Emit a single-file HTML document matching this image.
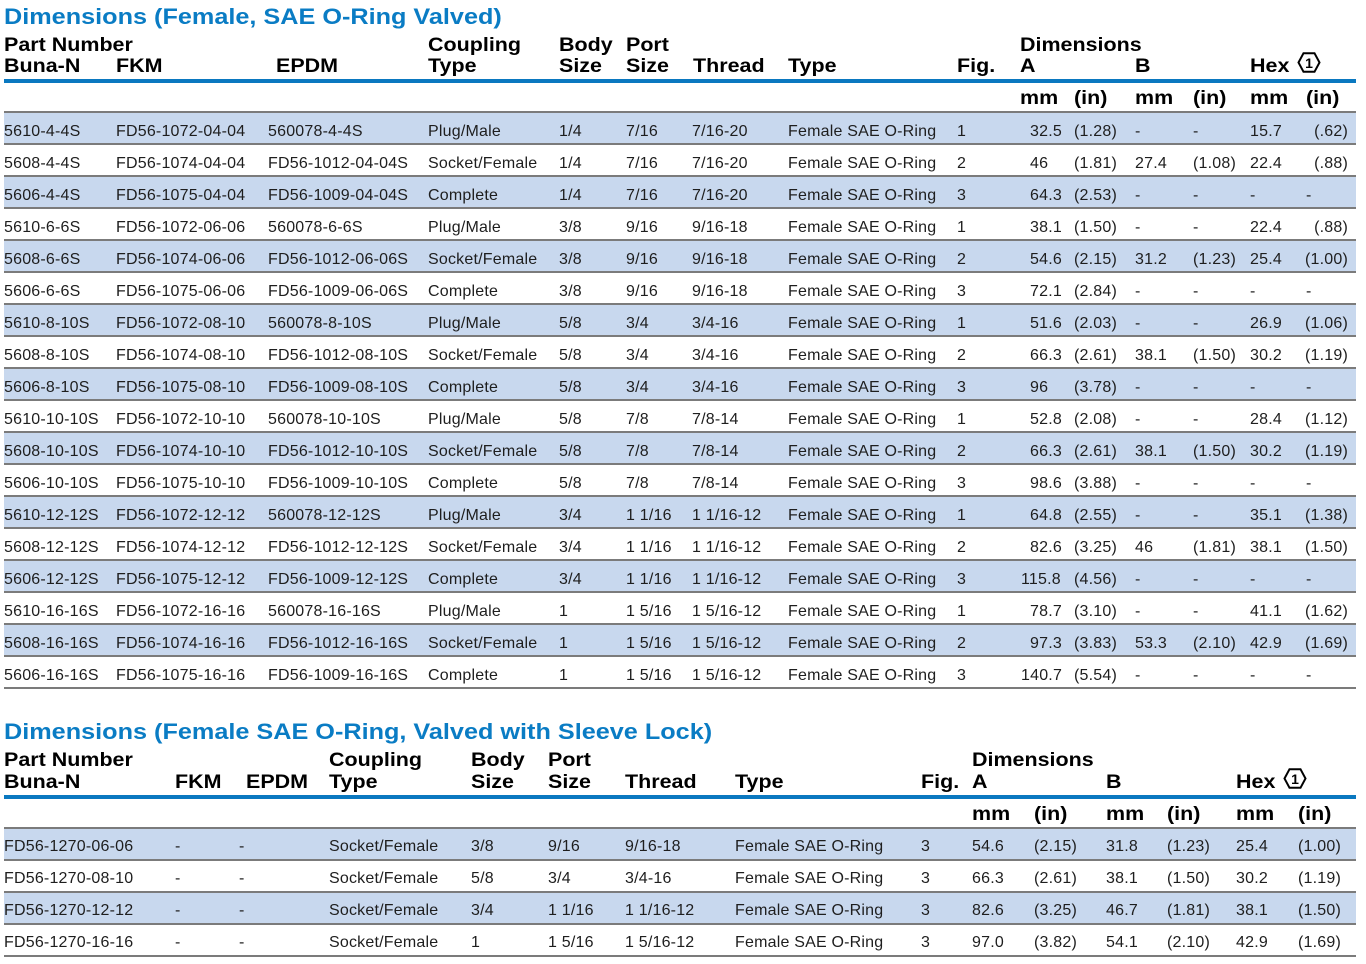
<!DOCTYPE html>
<html><head><meta charset="utf-8">
<style>
body{margin:0;width:1366px;height:964px;background:#fff;position:relative;overflow:hidden;font-family:"Liberation Sans",Arial,sans-serif;}
.t{position:absolute;left:4px;font-weight:bold;font-size:22px;line-height:22px;color:#0a7cc4;transform:scaleX(1.147);transform-origin:0 0;white-space:nowrap;}
.h{position:absolute;font-weight:bold;font-size:19px;line-height:19px;color:#000;transform:scaleX(1.13);transform-origin:0 0;white-space:nowrap;}
.bl{position:absolute;left:4px;width:1352px;height:4px;background:#0a78c0;}
.r{position:absolute;left:4px;width:1352px;height:32px;box-sizing:border-box;border-top:2px solid #7b7b7b;}
.r.b{background:#c8d8ee;}
.r span{position:absolute;top:10px;font-size:16px;line-height:16px;color:#1e1e1e;white-space:nowrap;letter-spacing:0.2px;}
.t1 .r span{top:11px;}
.end{position:absolute;left:4px;width:1352px;height:2px;background:#7b7b7b;}
.a1{left:0}.a2{left:112px}.a3{left:264px}.a4{left:424px}.a5{left:555px}.a6{left:622px}.a7{left:688px}.a8{left:784px}.a9{left:953px}
.a10{left:1026px}.a10w{left:1017px}.a11{left:1070px}.a12{left:1131px}.a13{left:1189px}.a14{left:1246px}
.r span.a15{right:8px}.a15d{left:1302px}
.b1{left:0}.b2{left:171px}.b3{left:235px}.b4{left:325px}.b5{left:467px}.b6{left:544px}.b7{left:621px}.b8{left:731px}.b9{left:917px}
.b10{left:968px}.b11{left:1030px}.b12{left:1102px}.b13{left:1163px}.b14{left:1232px}.b15{left:1294px}
.ic{position:absolute;}
</style></head><body>

<div class="t" style="top:6px">Dimensions (Female, SAE O-Ring Valved)</div>

<div class="h" style="left:4px;top:36px">Part Number</div>
<div class="h" style="left:428px;top:36px">Coupling</div>
<div class="h" style="left:559px;top:36px">Body</div>
<div class="h" style="left:626px;top:36px">Port</div>
<div class="h" style="left:1020px;top:36px">Dimensions</div>

<div class="h" style="left:4px;top:57px">Buna-N</div>
<div class="h" style="left:116px;top:57px">FKM</div>
<div class="h" style="left:276px;top:57px">EPDM</div>
<div class="h" style="left:428px;top:57px">Type</div>
<div class="h" style="left:559px;top:57px">Size</div>
<div class="h" style="left:626px;top:57px">Size</div>
<div class="h" style="left:693px;top:57px">Thread</div>
<div class="h" style="left:788px;top:57px">Type</div>
<div class="h" style="left:957px;top:57px">Fig.</div>
<div class="h" style="left:1020px;top:57px">A</div>
<div class="h" style="left:1135px;top:57px">B</div>
<div class="h" style="left:1250px;top:57px">Hex</div>
<svg class="ic" style="left:1297px;top:52px" width="24" height="21" viewBox="0 0 24 21"><polygon points="1.5,10.5 6.5,1.2 17.5,1.2 22.5,10.5 17.5,19.8 6.5,19.8" fill="none" stroke="#000" stroke-width="2"/><text x="12" y="16" text-anchor="middle" font-family="Liberation Sans, sans-serif" font-weight="bold" font-size="14">1</text></svg>

<div class="bl" style="top:79px"></div>

<div class="h" style="left:1020px;top:89px">mm</div>
<div class="h" style="left:1074px;top:89px">(in)</div>
<div class="h" style="left:1135px;top:89px">mm</div>
<div class="h" style="left:1193px;top:89px">(in)</div>
<div class="h" style="left:1250px;top:89px">mm</div>
<div class="h" style="left:1306px;top:89px">(in)</div>

<div class="t1">
<div class="r b" style="top:111px"><span class="a1">5610-4-4S</span><span class="a2">FD56-1072-04-04</span><span class="a3">560078-4-4S</span><span class="a4">Plug/Male</span><span class="a5">1/4</span><span class="a6">7/16</span><span class="a7">7/16-20</span><span class="a8">Female SAE O-Ring</span><span class="a9">1</span><span class="a10">32.5</span><span class="a11">(1.28)</span><span class="a12">-</span><span class="a13">-</span><span class="a14">15.7</span><span class="a15">(.62)</span></div>
<div class="r" style="top:143px"><span class="a1">5608-4-4S</span><span class="a2">FD56-1074-04-04</span><span class="a3">FD56-1012-04-04S</span><span class="a4">Socket/Female</span><span class="a5">1/4</span><span class="a6">7/16</span><span class="a7">7/16-20</span><span class="a8">Female SAE O-Ring</span><span class="a9">2</span><span class="a10">46</span><span class="a11">(1.81)</span><span class="a12">27.4</span><span class="a13">(1.08)</span><span class="a14">22.4</span><span class="a15">(.88)</span></div>
<div class="r b" style="top:175px"><span class="a1">5606-4-4S</span><span class="a2">FD56-1075-04-04</span><span class="a3">FD56-1009-04-04S</span><span class="a4">Complete</span><span class="a5">1/4</span><span class="a6">7/16</span><span class="a7">7/16-20</span><span class="a8">Female SAE O-Ring</span><span class="a9">3</span><span class="a10">64.3</span><span class="a11">(2.53)</span><span class="a12">-</span><span class="a13">-</span><span class="a14">-</span><span class="a15d">-</span></div>
<div class="r" style="top:207px"><span class="a1">5610-6-6S</span><span class="a2">FD56-1072-06-06</span><span class="a3">560078-6-6S</span><span class="a4">Plug/Male</span><span class="a5">3/8</span><span class="a6">9/16</span><span class="a7">9/16-18</span><span class="a8">Female SAE O-Ring</span><span class="a9">1</span><span class="a10">38.1</span><span class="a11">(1.50)</span><span class="a12">-</span><span class="a13">-</span><span class="a14">22.4</span><span class="a15">(.88)</span></div>
<div class="r b" style="top:239px"><span class="a1">5608-6-6S</span><span class="a2">FD56-1074-06-06</span><span class="a3">FD56-1012-06-06S</span><span class="a4">Socket/Female</span><span class="a5">3/8</span><span class="a6">9/16</span><span class="a7">9/16-18</span><span class="a8">Female SAE O-Ring</span><span class="a9">2</span><span class="a10">54.6</span><span class="a11">(2.15)</span><span class="a12">31.2</span><span class="a13">(1.23)</span><span class="a14">25.4</span><span class="a15">(1.00)</span></div>
<div class="r" style="top:271px"><span class="a1">5606-6-6S</span><span class="a2">FD56-1075-06-06</span><span class="a3">FD56-1009-06-06S</span><span class="a4">Complete</span><span class="a5">3/8</span><span class="a6">9/16</span><span class="a7">9/16-18</span><span class="a8">Female SAE O-Ring</span><span class="a9">3</span><span class="a10">72.1</span><span class="a11">(2.84)</span><span class="a12">-</span><span class="a13">-</span><span class="a14">-</span><span class="a15d">-</span></div>
<div class="r b" style="top:303px"><span class="a1">5610-8-10S</span><span class="a2">FD56-1072-08-10</span><span class="a3">560078-8-10S</span><span class="a4">Plug/Male</span><span class="a5">5/8</span><span class="a6">3/4</span><span class="a7">3/4-16</span><span class="a8">Female SAE O-Ring</span><span class="a9">1</span><span class="a10">51.6</span><span class="a11">(2.03)</span><span class="a12">-</span><span class="a13">-</span><span class="a14">26.9</span><span class="a15">(1.06)</span></div>
<div class="r" style="top:335px"><span class="a1">5608-8-10S</span><span class="a2">FD56-1074-08-10</span><span class="a3">FD56-1012-08-10S</span><span class="a4">Socket/Female</span><span class="a5">5/8</span><span class="a6">3/4</span><span class="a7">3/4-16</span><span class="a8">Female SAE O-Ring</span><span class="a9">2</span><span class="a10">66.3</span><span class="a11">(2.61)</span><span class="a12">38.1</span><span class="a13">(1.50)</span><span class="a14">30.2</span><span class="a15">(1.19)</span></div>
<div class="r b" style="top:367px"><span class="a1">5606-8-10S</span><span class="a2">FD56-1075-08-10</span><span class="a3">FD56-1009-08-10S</span><span class="a4">Complete</span><span class="a5">5/8</span><span class="a6">3/4</span><span class="a7">3/4-16</span><span class="a8">Female SAE O-Ring</span><span class="a9">3</span><span class="a10">96</span><span class="a11">(3.78)</span><span class="a12">-</span><span class="a13">-</span><span class="a14">-</span><span class="a15d">-</span></div>
<div class="r" style="top:399px"><span class="a1">5610-10-10S</span><span class="a2">FD56-1072-10-10</span><span class="a3">560078-10-10S</span><span class="a4">Plug/Male</span><span class="a5">5/8</span><span class="a6">7/8</span><span class="a7">7/8-14</span><span class="a8">Female SAE O-Ring</span><span class="a9">1</span><span class="a10">52.8</span><span class="a11">(2.08)</span><span class="a12">-</span><span class="a13">-</span><span class="a14">28.4</span><span class="a15">(1.12)</span></div>
<div class="r b" style="top:431px"><span class="a1">5608-10-10S</span><span class="a2">FD56-1074-10-10</span><span class="a3">FD56-1012-10-10S</span><span class="a4">Socket/Female</span><span class="a5">5/8</span><span class="a6">7/8</span><span class="a7">7/8-14</span><span class="a8">Female SAE O-Ring</span><span class="a9">2</span><span class="a10">66.3</span><span class="a11">(2.61)</span><span class="a12">38.1</span><span class="a13">(1.50)</span><span class="a14">30.2</span><span class="a15">(1.19)</span></div>
<div class="r" style="top:463px"><span class="a1">5606-10-10S</span><span class="a2">FD56-1075-10-10</span><span class="a3">FD56-1009-10-10S</span><span class="a4">Complete</span><span class="a5">5/8</span><span class="a6">7/8</span><span class="a7">7/8-14</span><span class="a8">Female SAE O-Ring</span><span class="a9">3</span><span class="a10">98.6</span><span class="a11">(3.88)</span><span class="a12">-</span><span class="a13">-</span><span class="a14">-</span><span class="a15d">-</span></div>
<div class="r b" style="top:495px"><span class="a1">5610-12-12S</span><span class="a2">FD56-1072-12-12</span><span class="a3">560078-12-12S</span><span class="a4">Plug/Male</span><span class="a5">3/4</span><span class="a6">1 1/16</span><span class="a7">1 1/16-12</span><span class="a8">Female SAE O-Ring</span><span class="a9">1</span><span class="a10">64.8</span><span class="a11">(2.55)</span><span class="a12">-</span><span class="a13">-</span><span class="a14">35.1</span><span class="a15">(1.38)</span></div>
<div class="r" style="top:527px"><span class="a1">5608-12-12S</span><span class="a2">FD56-1074-12-12</span><span class="a3">FD56-1012-12-12S</span><span class="a4">Socket/Female</span><span class="a5">3/4</span><span class="a6">1 1/16</span><span class="a7">1 1/16-12</span><span class="a8">Female SAE O-Ring</span><span class="a9">2</span><span class="a10">82.6</span><span class="a11">(3.25)</span><span class="a12">46</span><span class="a13">(1.81)</span><span class="a14">38.1</span><span class="a15">(1.50)</span></div>
<div class="r b" style="top:559px"><span class="a1">5606-12-12S</span><span class="a2">FD56-1075-12-12</span><span class="a3">FD56-1009-12-12S</span><span class="a4">Complete</span><span class="a5">3/4</span><span class="a6">1 1/16</span><span class="a7">1 1/16-12</span><span class="a8">Female SAE O-Ring</span><span class="a9">3</span><span class="a10w">115.8</span><span class="a11">(4.56)</span><span class="a12">-</span><span class="a13">-</span><span class="a14">-</span><span class="a15d">-</span></div>
<div class="r" style="top:591px"><span class="a1">5610-16-16S</span><span class="a2">FD56-1072-16-16</span><span class="a3">560078-16-16S</span><span class="a4">Plug/Male</span><span class="a5">1</span><span class="a6">1 5/16</span><span class="a7">1 5/16-12</span><span class="a8">Female SAE O-Ring</span><span class="a9">1</span><span class="a10">78.7</span><span class="a11">(3.10)</span><span class="a12">-</span><span class="a13">-</span><span class="a14">41.1</span><span class="a15">(1.62)</span></div>
<div class="r b" style="top:623px"><span class="a1">5608-16-16S</span><span class="a2">FD56-1074-16-16</span><span class="a3">FD56-1012-16-16S</span><span class="a4">Socket/Female</span><span class="a5">1</span><span class="a6">1 5/16</span><span class="a7">1 5/16-12</span><span class="a8">Female SAE O-Ring</span><span class="a9">2</span><span class="a10">97.3</span><span class="a11">(3.83)</span><span class="a12">53.3</span><span class="a13">(2.10)</span><span class="a14">42.9</span><span class="a15">(1.69)</span></div>
<div class="r" style="top:655px"><span class="a1">5606-16-16S</span><span class="a2">FD56-1075-16-16</span><span class="a3">FD56-1009-16-16S</span><span class="a4">Complete</span><span class="a5">1</span><span class="a6">1 5/16</span><span class="a7">1 5/16-12</span><span class="a8">Female SAE O-Ring</span><span class="a9">3</span><span class="a10w">140.7</span><span class="a11">(5.54)</span><span class="a12">-</span><span class="a13">-</span><span class="a14">-</span><span class="a15d">-</span></div>
</div>
<div class="end" style="top:687px"></div>

<div class="t" style="top:721px">Dimensions (Female SAE O-Ring, Valved with Sleeve Lock)</div>

<div class="h" style="left:4px;top:751px">Part Number</div>
<div class="h" style="left:329px;top:751px">Coupling</div>
<div class="h" style="left:471px;top:751px">Body</div>
<div class="h" style="left:548px;top:751px">Port</div>
<div class="h" style="left:972px;top:751px">Dimensions</div>

<div class="h" style="left:4px;top:773px">Buna-N</div>
<div class="h" style="left:175px;top:773px">FKM</div>
<div class="h" style="left:246px;top:773px">EPDM</div>
<div class="h" style="left:329px;top:773px">Type</div>
<div class="h" style="left:471px;top:773px">Size</div>
<div class="h" style="left:548px;top:773px">Size</div>
<div class="h" style="left:625px;top:773px">Thread</div>
<div class="h" style="left:735px;top:773px">Type</div>
<div class="h" style="left:921px;top:773px">Fig.</div>
<div class="h" style="left:972px;top:773px">A</div>
<div class="h" style="left:1106px;top:773px">B</div>
<div class="h" style="left:1236px;top:773px">Hex</div>
<svg class="ic" style="left:1283px;top:768px" width="24" height="21" viewBox="0 0 24 21"><polygon points="1.5,10.5 6.5,1.2 17.5,1.2 22.5,10.5 17.5,19.8 6.5,19.8" fill="none" stroke="#000" stroke-width="2"/><text x="12" y="16" text-anchor="middle" font-family="Liberation Sans, sans-serif" font-weight="bold" font-size="14">1</text></svg>

<div class="bl" style="top:795px"></div>

<div class="h" style="left:972px;top:805px">mm</div>
<div class="h" style="left:1034px;top:805px">(in)</div>
<div class="h" style="left:1106px;top:805px">mm</div>
<div class="h" style="left:1167px;top:805px">(in)</div>
<div class="h" style="left:1236px;top:805px">mm</div>
<div class="h" style="left:1298px;top:805px">(in)</div>

<div class="r b" style="top:827px"><span class="b1">FD56-1270-06-06</span><span class="b2">-</span><span class="b3">-</span><span class="b4">Socket/Female</span><span class="b5">3/8</span><span class="b6">9/16</span><span class="b7">9/16-18</span><span class="b8">Female SAE O-Ring</span><span class="b9">3</span><span class="b10">54.6</span><span class="b11">(2.15)</span><span class="b12">31.8</span><span class="b13">(1.23)</span><span class="b14">25.4</span><span class="b15">(1.00)</span></div>
<div class="r" style="top:859px"><span class="b1">FD56-1270-08-10</span><span class="b2">-</span><span class="b3">-</span><span class="b4">Socket/Female</span><span class="b5">5/8</span><span class="b6">3/4</span><span class="b7">3/4-16</span><span class="b8">Female SAE O-Ring</span><span class="b9">3</span><span class="b10">66.3</span><span class="b11">(2.61)</span><span class="b12">38.1</span><span class="b13">(1.50)</span><span class="b14">30.2</span><span class="b15">(1.19)</span></div>
<div class="r b" style="top:891px"><span class="b1">FD56-1270-12-12</span><span class="b2">-</span><span class="b3">-</span><span class="b4">Socket/Female</span><span class="b5">3/4</span><span class="b6">1 1/16</span><span class="b7">1 1/16-12</span><span class="b8">Female SAE O-Ring</span><span class="b9">3</span><span class="b10">82.6</span><span class="b11">(3.25)</span><span class="b12">46.7</span><span class="b13">(1.81)</span><span class="b14">38.1</span><span class="b15">(1.50)</span></div>
<div class="r" style="top:923px"><span class="b1">FD56-1270-16-16</span><span class="b2">-</span><span class="b3">-</span><span class="b4">Socket/Female</span><span class="b5">1</span><span class="b6">1 5/16</span><span class="b7">1 5/16-12</span><span class="b8">Female SAE O-Ring</span><span class="b9">3</span><span class="b10">97.0</span><span class="b11">(3.82)</span><span class="b12">54.1</span><span class="b13">(2.10)</span><span class="b14">42.9</span><span class="b15">(1.69)</span></div>
<div class="end" style="top:955px"></div>

</body></html>
